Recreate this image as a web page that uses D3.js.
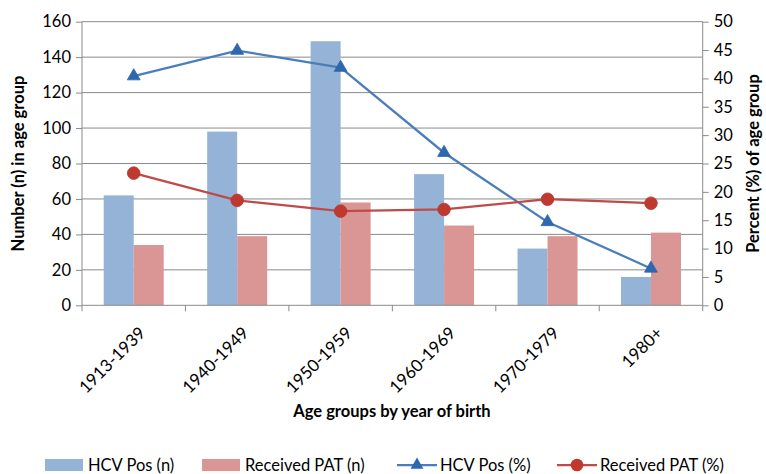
<!DOCTYPE html>
<html><head><meta charset="utf-8">
<script src="https://cdn.jsdelivr.net/npm/d3@7"></script>
<style>body{margin:0;background:#fff}svg{display:block}text{font-family:Lato,"Noto Sans",sans-serif;fill:#000}</style>
</head><body>
<svg id="c" width="766" height="474"></svg>
<script>
const categories = ["1913-1939","1940-1949","1950-1959","1960-1969","1970-1979","1980+"];
const hcvPosN = [62, 98, 149, 74, 32, 16];
const receivedPatN = [34, 39, 58, 45, 39, 41];
const hcvPosPct = [40.4, 44.9, 41.9, 26.9, 14.7, 6.5];
const receivedPatPct = [23.3, 18.5, 16.6, 16.9, 18.7, 18.0];
const leftTicks = [0,20,40,60,80,100,120,140,160];
const rightTicks = [0,5,10,15,20,25,30,35,40,45,50];
const seriesNames = ["HCV Pos (n)","Received PAT (n)","HCV Pos (%)","Received PAT (%)"];

const svg = d3.select("#c");
const L = 82, R = 702.7, T = 21.7, B = 305.3;
const FS = 16.5;
const x = d3.scaleBand().domain(categories).range([L, R]).paddingInner(0.42).paddingOuter(0.21);
const xc = d3.scaleBand().domain(categories).range([L, R]);
const xs = d3.scaleBand().domain([0,1]).range([0, x.bandwidth()]);
const yL = d3.scaleLinear().domain([0,160]).range([B, T]);
const yR = d3.scaleLinear().domain([0,50]).range([B, T]);
const grid = "#8a8a8a";

// gridlines
svg.append("g").selectAll("line").data(leftTicks.slice(1)).join("line")
  .attr("x1", L).attr("x2", R).attr("y1", d=>yL(d)).attr("y2", d=>yL(d))
  .attr("stroke", grid).attr("stroke-width", 1);

// left axis
const ga = svg.append("g").attr("transform", `translate(${L},0)`)
  .call(d3.axisLeft(yL).tickValues(leftTicks).tickSize(6).tickPadding(5));
ga.select(".domain").attr("stroke", grid).attr("d", `M0,${T}V${B}`);
ga.selectAll(".tick line").attr("stroke", grid);
ga.selectAll("text").style("font-size", FS+"px").style("font-family","Lato");

// right axis
const gr = svg.append("g").attr("transform", `translate(${R},0)`)
  .call(d3.axisRight(yR).tickValues(rightTicks).tickSize(6).tickPadding(5));
gr.select(".domain").attr("stroke", grid).attr("d", `M0,${T}V${B}`);
gr.selectAll(".tick line").attr("stroke", grid);
gr.selectAll("text").style("font-size", FS+"px").style("font-family","Lato");

// bars
const barData = categories.map((c,i)=>({c, v:[hcvPosN[i], receivedPatN[i]]}));
const barColors = ["#95B3D7","#D99694"];
const gb = svg.append("g");
barData.forEach(d=>{
  d.v.forEach((v,j)=>{
    gb.append("rect").attr("x", x(d.c)+xs(j)).attr("width", xs.bandwidth())
      .attr("y", yL(v)).attr("height", B - yL(v)).attr("fill", barColors[j]);
  });
});

// bottom axis
const gx = svg.append("g").attr("transform", `translate(0,${B})`);
gx.append("line").attr("x1", L).attr("x2", R).attr("y1",0).attr("y2",0).attr("stroke", grid);
const bounds = categories.map(c=>xc(c)).concat([R]);
gx.selectAll("line.t").data(bounds).join("line").attr("class","t")
  .attr("x1", d=>d).attr("x2", d=>d).attr("y1",0).attr("y2",6).attr("stroke", grid);
gx.selectAll("text.lab").data(categories).join("text").attr("class","lab")
  .attr("transform", d=>`translate(${xc(d)+xc.bandwidth()/2+4},${20}) rotate(-45)`)
  .attr("text-anchor","end").attr("dy","0.72em")
  .style("font-size", "17px").text(d=>d);

// lines
const cx = c => xc(c) + xc.bandwidth()/2;
const blueLine = "#4A7EBB", redLine = "#BE4B48";
const lineGen = d3.line().x(d=>cx(d.c)).y(d=>yR(d.v));
const hp = categories.map((c,i)=>({c, v:hcvPosPct[i]}));
const rp = categories.map((c,i)=>({c, v:receivedPatPct[i]}));
svg.append("path").datum(hp).attr("d", lineGen).attr("fill","none").attr("stroke", blueLine).attr("stroke-width", 2.25);
svg.append("path").datum(rp).attr("d", lineGen).attr("fill","none").attr("stroke", redLine).attr("stroke-width", 2.25);
const tri = d3.symbol().type(d3.symbolTriangle).size(72);
svg.append("g").selectAll("path").data(hp).join("path")
  .attr("transform", d=>`translate(${cx(d.c)},${yR(d.v)})`).attr("d", tri)
  .attr("fill", "#2F67AE").attr("stroke", "#2F67AE").attr("stroke-width", 0.8);
svg.append("g").selectAll("circle").data(rp).join("circle")
  .attr("cx", d=>cx(d.c)).attr("cy", d=>yR(d.v)).attr("r", 6.3)
  .attr("fill", "#C0392F").attr("stroke", "#B33A36").attr("stroke-width", 0.8);

// axis titles
svg.append("text").attr("transform", `translate(24,${(T+B)/2}) rotate(-90)`)
  .attr("text-anchor","middle").style("font-size","16.5px").style("font-weight","bold")
  .text("Number (n) in age group");
svg.append("text").attr("transform", `translate(747,${(T+B)/2}) rotate(-90)`)
  .attr("text-anchor","middle").attr("dy","0.7em").style("font-size","16.5px").style("font-weight","bold")
  .text("Percent (%) of age group");
svg.append("text").attr("x", 392).attr("y", 417).attr("text-anchor","middle")
  .style("font-size","16.5px").style("font-weight","bold").text("Age groups by year of birth");

// legend
const lg = svg.append("g");
const ly = 465;
const items = [
  {x:45, type:"bar", color:barColors[0], name:seriesNames[0]},
  {x:202, type:"bar", color:barColors[1], name:seriesNames[1]},
  {x:397, type:"tri", color:blueLine, name:seriesNames[2]},
  {x:557, type:"dot", color:redLine, name:seriesNames[3]}
];
items.forEach(it=>{
  if (it.type==="bar") {
    lg.append("rect").attr("x", it.x).attr("y", ly-6).attr("width", 38).attr("height", 12).attr("fill", it.color);
  } else {
    lg.append("line").attr("x1", it.x).attr("x2", it.x+40).attr("y1", ly).attr("y2", ly).attr("stroke", it.color).attr("stroke-width", 2.25);
    if (it.type==="tri") lg.append("path").attr("transform", `translate(${it.x+20},${ly})`).attr("d", tri).attr("fill","#2F67AE");
    else lg.append("circle").attr("cx", it.x+20).attr("cy", ly).attr("r", 6.3).attr("fill","#C0392F");
  }
  lg.append("text").attr("x", it.x + 43).attr("y", ly).attr("dy","0.35em")
    .style("font-size","16.5px").text(it.name);
});
</script>
</body></html>
